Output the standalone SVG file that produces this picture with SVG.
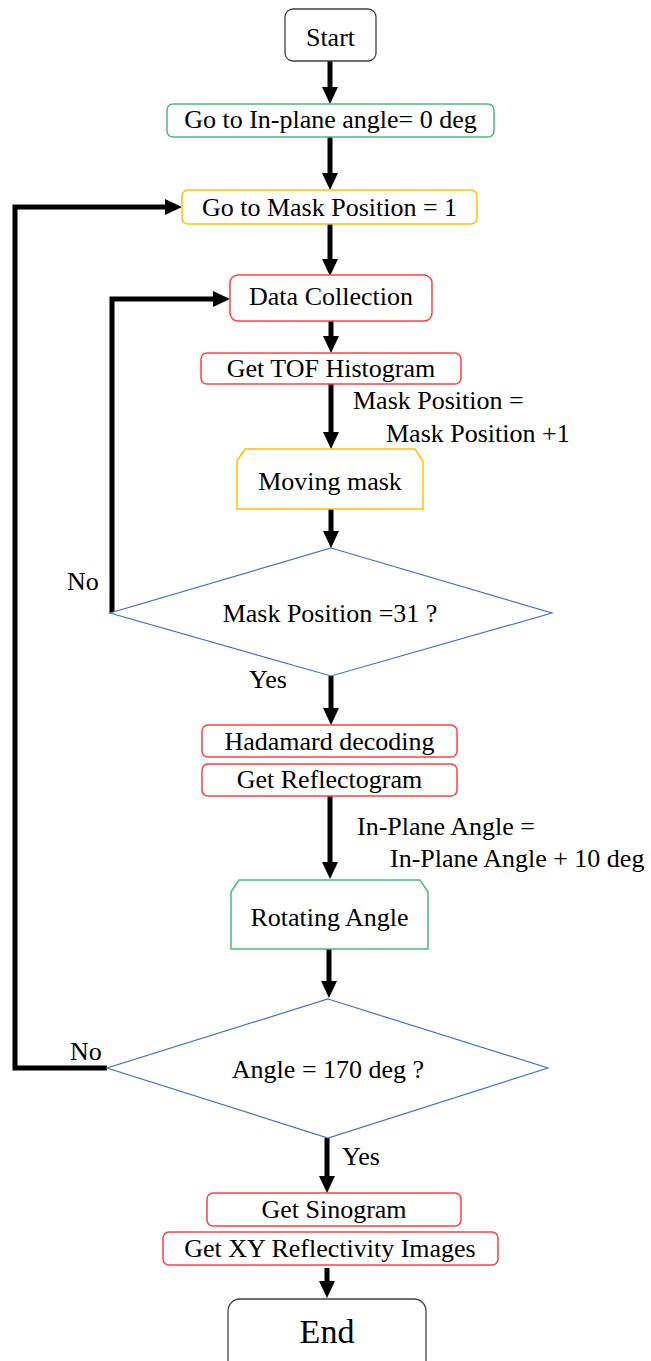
<svg xmlns="http://www.w3.org/2000/svg" width="651" height="1361" viewBox="0 0 651 1361">
<style>
text{font-family:"Liberation Serif","Times New Roman",serif;font-size:26px;fill:#000;text-anchor:middle}
.lbl{text-anchor:start}
.term{fill:#fff;stroke:#404040;stroke-width:1.3}
.green{fill:#fff;stroke:#4cbb78;stroke-width:1.5}
.yellow{fill:#fff;stroke:#ffc000;stroke-width:1.5}
.red{fill:#fff;stroke:#ff4040;stroke-width:1.5}
.dia{fill:#fff;stroke:#4472c4;stroke-width:1.2}
.conn{fill:none;stroke:#000;stroke-width:5;stroke-linejoin:miter}
</style>
<defs>
<marker id="ah" viewBox="0 0 17 16" refX="11" refY="8" markerWidth="17" markerHeight="16" markerUnits="userSpaceOnUse" orient="auto">
<path d="M0,0 L17,8 L0,16 Z" fill="#000"/>
</marker>
</defs>
<rect width="651" height="1361" fill="#fff"/>
<g id="connectors">
<path class="conn" d="M330,61 L330,98" marker-end="url(#ah)"/>
<path class="conn" d="M330,137 L330,184" marker-end="url(#ah)"/>
<path class="conn" d="M330,224 L330,270" marker-end="url(#ah)"/>
<path class="conn" d="M331,321 L331,347" marker-end="url(#ah)"/>
<path class="conn" d="M331,384 L331,443" marker-end="url(#ah)"/>
<path class="conn" d="M331,509 L331,542" marker-end="url(#ah)"/>
<path class="conn" d="M112,613 L112,299 L224,299" marker-end="url(#ah)"/>
<path class="conn" d="M331,676 L331,719" marker-end="url(#ah)"/>
<path class="conn" d="M330,796 L330,873" marker-end="url(#ah)"/>
<path class="conn" d="M329,949 L329,992" marker-end="url(#ah)"/>
<path class="conn" d="M107,1068 L15,1068 L15,207 L176,207" marker-end="url(#ah)"/>
<path class="conn" d="M327,1138 L327,1187" marker-end="url(#ah)"/>
<path class="conn" d="M327,1268 L327,1292" marker-end="url(#ah)"/>
</g>
<g id="start"><rect class="term" x="285" y="9" width="91" height="52" rx="8"/><text x="330.5" y="46">Start</text></g>
<g id="go-angle0"><rect class="green" x="167" y="104" width="327" height="33" rx="6"/><text x="330.5" y="128">Go to In-plane angle= 0 deg</text></g>
<g id="go-mask1"><rect class="yellow" x="182" y="190" width="295" height="34" rx="6"/><text x="329.5" y="216">Go to Mask Position = 1</text></g>
<g id="data-collection"><rect class="red" x="230" y="275" width="202" height="46" rx="8"/><text x="331" y="305">Data Collection</text></g>
<g id="tof"><rect class="red" x="201" y="353" width="260" height="31" rx="6"/><text x="331" y="377">Get TOF Histogram</text></g>
<g id="mask-inc"><text class="lbl" x="353" y="409">Mask Position =</text><text class="lbl" x="386" y="442">Mask Position +1</text></g>
<g id="moving-mask"><path class="yellow" d="M237,461 L245,449 L415,449 L423,461 L423,509 L237,509 Z"/><text x="330" y="490">Moving mask</text></g>
<g id="decision-mask"><path class="dia" d="M331,548 L552,613 L331,676 L110,613 Z"/><text x="330" y="622">Mask Position =31 ?</text><text class="lbl" x="67" y="590">No</text><text class="lbl" x="249" y="688">Yes</text></g>
<g id="hadamard"><rect class="red" x="202" y="725" width="255" height="32" rx="6"/><text x="329.5" y="750">Hadamard decoding</text></g>
<g id="reflectogram"><rect class="red" x="202" y="764" width="255" height="32" rx="6"/><text x="329.5" y="788">Get Reflectogram</text></g>
<g id="angle-inc"><text class="lbl" x="357" y="835">In-Plane Angle =</text><text class="lbl" x="390" y="867">In-Plane Angle + 10 deg</text></g>
<g id="rotating"><path class="green" d="M231,892 L239,880 L420,880 L428,892 L428,949 L231,949 Z"/><text x="329.5" y="926">Rotating Angle</text></g>
<g id="decision-angle"><path class="dia" d="M328,999 L548,1068 L328,1138 L107,1068 Z"/><text x="328" y="1078">Angle = 170 deg ?</text><text class="lbl" x="70" y="1060">No</text><text class="lbl" x="342" y="1165">Yes</text></g>
<g id="sinogram"><rect class="red" x="207" y="1193" width="254" height="33" rx="6"/><text x="334" y="1218">Get Sinogram</text></g>
<g id="xy-images"><rect class="red" x="163" y="1232" width="335" height="33" rx="6"/><text x="330" y="1257">Get XY Reflectivity Images</text></g>
<g id="end"><rect class="term" x="228" y="1299" width="198" height="75" rx="12"/><text x="327" y="1343" style="font-size:34px">End</text></g>
</svg>
